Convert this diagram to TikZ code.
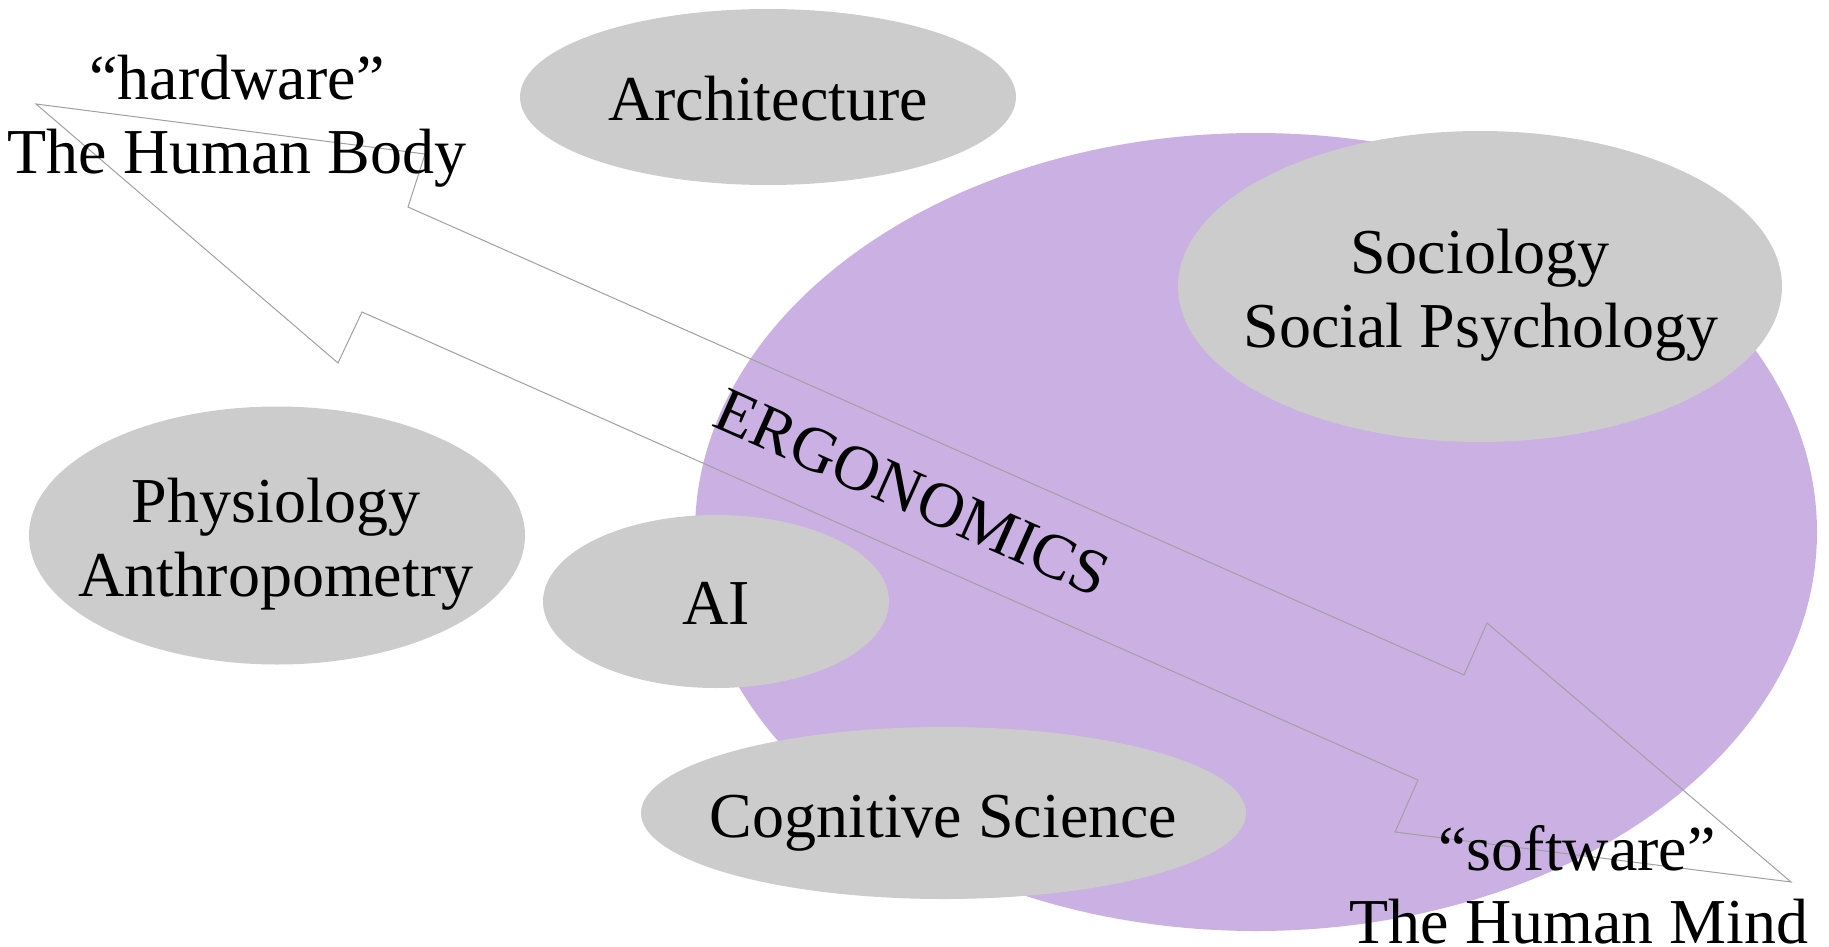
\documentclass[tikz,border=0pt]{standalone}
\usepackage{fontspec}
\setmainfont{Liberation Serif}
\definecolor{ergopurple}{HTML}{CBB0E3}
\definecolor{topicgray}{HTML}{CCCCCC}
\definecolor{arrowgray}{HTML}{A0A0A0}
\begin{document}
\begin{tikzpicture}[x=1pt,y=-1pt,
  bigtext/.style={font=\fontsize{64}{74}\selectfont, align=center, text=black, inner sep=0pt, anchor=base},
  topicfill/.style={fill=topicgray, draw=none},
  arrowline/.style={draw=arrowgray, line width=1pt, line join=miter}]
\useasboundingbox (0,0) rectangle (1829,947);
% ergonomics field
\fill[ergopurple] (1256,532) ellipse [x radius=561, y radius=399];
% topic ellipses
\fill[topicfill] (768,97) ellipse [x radius=248, y radius=88];
\fill[topicfill] (1480,286.5) ellipse [x radius=302, y radius=155.5];
\fill[topicfill] (277,535.5) ellipse [x radius=248, y radius=129];
\fill[topicfill] (716,601.5) ellipse [x radius=173, y radius=86.5];
\fill[topicfill] (943.5,813) ellipse [x radius=302.5, y radius=86];
% double-headed arrow outline
\coordinate (tipA) at (36,104);
\coordinate (tipB) at (1791,882);
\draw[arrowline] (tipA) -- (425,154) -- (408,207) -- (1464,675) -- (1487,623) -- (tipB)
  -- (1395,832) -- (1418,780) -- (362,312) -- (338,363) -- cycle;
% topic labels
\node[bigtext] (arch) at (768,121) {Architecture};
\node[bigtext] (socio1) at (1480,273) {Sociology};
\node[bigtext] (socio2) at (1481,347) {Social Psychology};
\node[bigtext] (physio1) at (276,522) {Physiology};
\node[bigtext] (physio2) at (276,596) {Anthropometry};
\node[bigtext] (ai) at (716,624) {AI};
\node[bigtext] (cog) at (943.5,837) {Cognitive Science};
% end labels
\node[bigtext] (hw) at (237,100) {“hardware”};
\node[bigtext] (body) at (237,173) {The Human Body};
\node[bigtext] (sw) at (1577,870) {“software”};
\node[bigtext] (mind) at (1579,943) {The Human Mind};
\node[bigtext, rotate=-24] (ergo) at (904,512) {ERGONOMICS};
\end{tikzpicture}
\end{document}
